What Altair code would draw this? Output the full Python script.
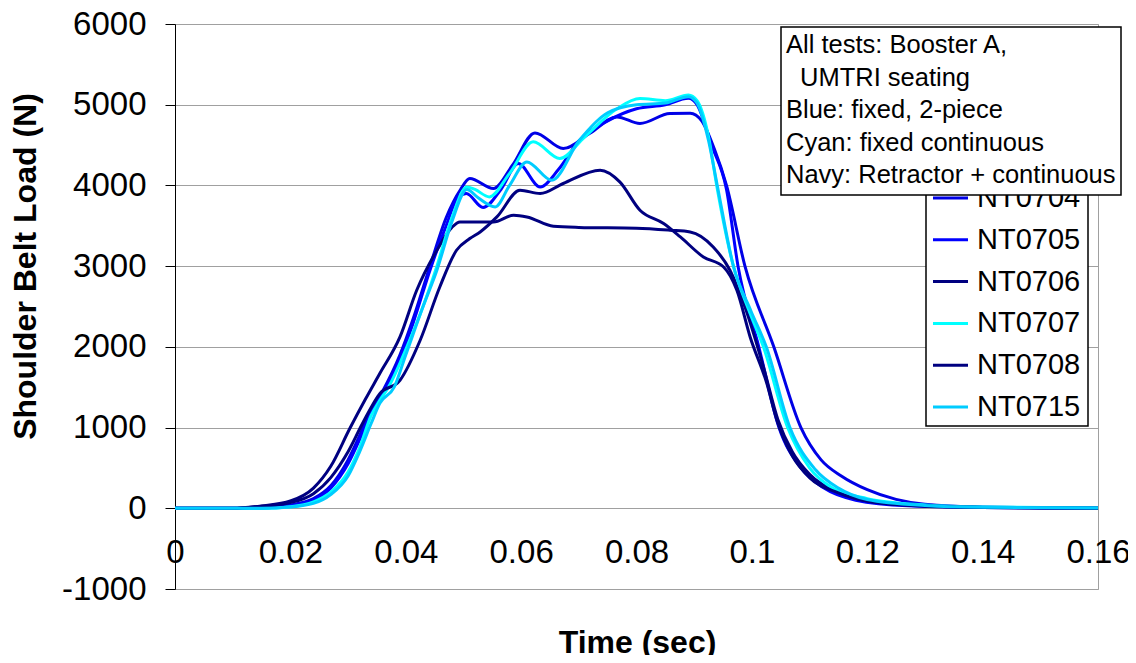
import altair as alt
import pandas as pd

FONT = "Liberation Sans, Arial, sans-serif"

SERIES = ["NT0704", "NT0705", "NT0706", "NT0707", "NT0708", "NT0715"]
COLORS = ["#0000E6", "#0000FF", "#000080", "#00FFFF", "#000080", "#00CCFF"]

X_TICKS = [0, 0.02, 0.04, 0.06, 0.08, 0.1, 0.12, 0.14, 0.16]
Y_TICKS = [-1000, 0, 1000, 2000, 3000, 4000, 5000, 6000]

NOTE_LINES = ["All tests: Booster A,", "UMTRI seating", "Blue: fixed, 2-piece",
              "Cyan: fixed continuous", "Navy: Retractor + continuous"]
NOTE_INDENT = [0, 1, 0, 0, 0]

# NT0704 (blue, lower final plateau)
t_0704 = [0, 0.01, 0.015, 0.02, 0.024, 0.027, 0.03, 0.032, 0.0335, 0.036, 0.039, 0.0413, 0.0442, 0.047,
          0.0495, 0.0511, 0.0552, 0.0585, 0.0624, 0.0673, 0.072, 0.0766, 0.0806, 0.0858, 0.0893, 0.0913,
          0.0935, 0.0956, 0.0988, 0.1038, 0.1085, 0.112, 0.1155, 0.12, 0.125, 0.13, 0.14, 0.15, 0.16]
v_0704 = [0, 0, 5, 40, 120, 280, 600, 900, 1150, 1450, 1900, 2350, 3000, 3600,
          3950, 4085, 3961, 4250, 4651, 4457, 4650, 4849, 4767, 4891, 4894, 4800,
          4450, 4000, 3000, 2000, 1000, 600, 400, 230, 110, 50, 15, 8, 5]

# NT0705 (blue)
t_0705 = [0, 0.01, 0.015, 0.02, 0.024, 0.027, 0.03, 0.032, 0.0335, 0.036, 0.039, 0.0413, 0.0442, 0.047,
          0.049, 0.0505, 0.0534, 0.0565, 0.0595, 0.0633, 0.0665, 0.07, 0.075, 0.08, 0.085, 0.089, 0.0905,
          0.093, 0.0956, 0.0976, 0.1012, 0.1047, 0.1085, 0.1125, 0.118, 0.127, 0.14, 0.16]
v_0705 = [0, 0, 5, 30, 100, 250, 550, 850, 1100, 1400, 1850, 2300, 2950, 3500,
          3850, 3900, 3726, 3950, 4271, 3981, 4200, 4550, 4800, 4950, 5000, 5080, 5000,
          4500, 3950, 3000, 2000, 1000, 500, 250, 100, 30, 10, 0]

# NT0706 (navy, flat plateau)
t_0706 = [0, 0.01, 0.015, 0.02, 0.024, 0.027, 0.0303, 0.033, 0.0355, 0.039, 0.0419, 0.0454, 0.048,
          0.0494, 0.0552, 0.0587, 0.061, 0.0656, 0.07, 0.08, 0.0858, 0.0893, 0.0933, 0.0962, 0.099,
          0.102, 0.1045, 0.107, 0.11, 0.115, 0.12, 0.13, 0.14, 0.16]
v_0706 = [0, 0, 30, 90, 250, 520, 988, 1350, 1669, 2123, 2701, 3197, 3480,
          3548, 3548, 3631, 3610, 3494, 3480, 3470, 3445, 3424, 3238, 2949, 2453,
          1751, 1100, 700, 420, 200, 90, 25, 10, 0]

# NT0707 (cyan)
t_0707 = [0, 0.015, 0.02, 0.024, 0.027, 0.03, 0.032, 0.034, 0.0355, 0.037, 0.039, 0.0402, 0.043,
          0.0454, 0.048, 0.0506, 0.052, 0.0545, 0.058, 0.0621, 0.0667, 0.071, 0.0766, 0.0806, 0.085,
          0.089, 0.0905, 0.0925, 0.0939, 0.0968, 0.0995, 0.102, 0.1062, 0.11, 0.114, 0.12, 0.13, 0.14, 0.16]
v_0707 = [0, 0, 20, 80, 200, 450, 750, 1150, 1338, 1500, 1800, 2000, 2500,
          3000, 3600, 3982, 3950, 3858, 4150, 4540, 4333, 4600, 4950, 5077, 5050,
          5120, 5050, 4600, 4000, 3000, 2450, 2000, 1000, 500, 250, 120, 40, 15, 5]

# NT0708 (navy, peaked)
t_0708 = [0, 0.01, 0.015, 0.02, 0.024, 0.027, 0.03, 0.0325, 0.0355, 0.039, 0.0425, 0.0459, 0.0488,
          0.0511, 0.0529, 0.0558, 0.0598, 0.0633, 0.0673, 0.0737, 0.0771, 0.0806, 0.0847, 0.0876,
          0.0916, 0.0951, 0.0974, 0.0997, 0.1026, 0.1043, 0.107, 0.11, 0.115, 0.12, 0.13, 0.14, 0.16]
v_0708 = [0, 0, 25, 70, 180, 380, 700, 1050, 1421, 1586, 2082, 2742, 3197,
          3342, 3424, 3610, 3940, 3900, 4024, 4188, 4044, 3693, 3528, 3362,
          3114, 2990, 2701, 2123, 1545, 1100, 650, 380, 190, 90, 30, 10, 0]

# NT0715 (light cyan)
t_0715 = [0, 0.015, 0.02, 0.024, 0.027, 0.03, 0.032, 0.034, 0.0355, 0.038, 0.04, 0.043, 0.0454,
          0.048, 0.0506, 0.0525, 0.0555, 0.058, 0.061, 0.0653, 0.07, 0.075, 0.08, 0.085, 0.089,
          0.0905, 0.0925, 0.094, 0.0968, 0.0998, 0.1025, 0.1066, 0.111, 0.115, 0.12, 0.13, 0.14, 0.16]
v_0715 = [0, 0, 15, 60, 170, 400, 700, 1050, 1300, 1500, 1900, 2500, 2950,
          3550, 3950, 3850, 3734, 4000, 4291, 4064, 4550, 4900, 5000, 5020, 5100,
          5020, 4550, 4000, 3000, 2450, 2000, 1000, 480, 250, 110, 35, 12, 5]

SERIES_DATA = {
    "NT0704": (t_0704, v_0704),
    "NT0705": (t_0705, v_0705),
    "NT0706": (t_0706, v_0706),
    "NT0707": (t_0707, v_0707),
    "NT0708": (t_0708, v_0708),
    "NT0715": (t_0715, v_0715),
}

rows = []
for name in SERIES:
    ts, vs = SERIES_DATA[name]
    for t, v in zip(ts, vs):
        rows.append({"t": t, "v": v, "series": name})
df = pd.DataFrame(rows)

leg_df = pd.DataFrame({"series": SERIES, "idx": list(range(len(SERIES)))})
one = pd.DataFrame({"a": [0]})
note_df = pd.DataFrame({"txt": NOTE_LINES, "line": list(range(len(NOTE_LINES))),
                        "indent": NOTE_INDENT})

color = alt.Color("series:N", scale=alt.Scale(domain=SERIES, range=COLORS), legend=None)

lines = alt.Chart(df).mark_line(strokeWidth=3, interpolate="monotone").encode(
    x=alt.X("t:Q", scale=alt.Scale(domain=[0, 0.16], nice=False, zero=False),
            axis=alt.Axis(values=X_TICKS, labelExpr="'' + datum.value", grid=False, domain=False,
                          ticks=False, labelPadding=-53, labelFontSize=33, labelFont=FONT,
                          labelColor="black", labelFlush=False, labelOverlap=False,
                          title="Time (sec)", titleFontSize=32, titleFont=FONT, titleFontWeight="bold",
                          titleColor="black", titleX=462, titleY=53, titleBaseline="middle")),
    y=alt.Y("v:Q", scale=alt.Scale(domain=[-1000, 6000], nice=False, zero=False),
            axis=alt.Axis(values=Y_TICKS, labelExpr="'' + datum.value", grid=True, gridColor="#a0a0a0",
                          gridWidth=1, domainColor="black", domainWidth=1, tickColor="black",
                          tickSize=10, labelPadding=19, labelFontSize=33, labelFont=FONT,
                          labelColor="black", labelFlush=False, labelOverlap=False,
                          title="Shoulder Belt Load (N)", titleFontSize=32, titleFont=FONT,
                          titleFontWeight="bold", titleColor="black", titleX=-150, titleY=242,
                          titleBaseline="middle")),
    color=color,
)

leg_scale = alt.Scale(domain=[0, 5], range=[174, 383])

leg_box = alt.Chart(one).mark_rect(fill="white", stroke="black", strokeWidth=1.5).encode(
    x=alt.value(751), x2=alt.value(913), y=alt.value(150), y2=alt.value(402))

leg_lines = alt.Chart(leg_df).mark_rule(strokeWidth=3).encode(
    x=alt.value(758), x2=alt.value(793),
    y=alt.Y("idx:Q", scale=leg_scale, axis=None),
    color=color)

leg_text = alt.Chart(leg_df).mark_text(align="left", baseline="middle", fontSize=29, font=FONT,
                                       color="black").encode(
    x=alt.value(802),
    y=alt.Y("idx:Q", scale=leg_scale, axis=None),
    text="series:N")

note_box = alt.Chart(one).mark_rect(fill="white", stroke="black", strokeWidth=1.5).encode(
    x=alt.value(606), x2=alt.value(946), y=alt.value(3), y2=alt.value(171))

note_text = alt.Chart(note_df).mark_text(align="left", baseline="middle", fontSize=25.5, font=FONT,
                                         color="black").encode(
    x=alt.X("indent:Q", scale=alt.Scale(domain=[0, 1], range=[611, 625]), axis=None),
    y=alt.Y("line:Q", scale=alt.Scale(domain=[0, 4], range=[21, 151]), axis=None),
    text="txt:N")

chart = alt.layer(lines, leg_box, leg_lines, leg_text, note_box, note_text).resolve_scale(
    x="independent", y="independent"
).properties(
    width=923, height=565,
    padding={"left": 167, "top": 16, "right": 30, "bottom": 66},
    autosize=alt.AutoSizeParams(type="none"),
).configure_view(stroke="#a0a0a0", strokeWidth=1)

chart.save("out.html", embed_options={"renderer": "svg", "actions": False})
